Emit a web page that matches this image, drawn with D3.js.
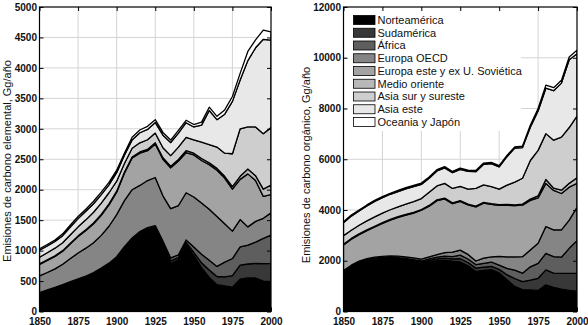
<!DOCTYPE html>
<html><head><meta charset="utf-8">
<script src="https://cdn.jsdelivr.net/npm/d3@7"></script>
<style>
body{margin:0;background:#fff}
svg{display:block}
text{font-family:"Liberation Sans",Arial,Helvetica,sans-serif;fill:#111}
</style>
</head><body>
<svg id="chart" width="588" height="325"></svg>
<script>
// ---------------- DATA ----------------
const years = [1850,1855,1860,1865,1870,1875,1880,1885,1890,1895,1900,1905,1910,1915,1920,1925,1930,1935,1940,1945,1950,1955,1960,1965,1970,1975,1980,1985,1990,1995,2000];
const regions = ["Norteamérica","Sudamérica","África","Europa OECD","Europa este y ex U. Soviética","Medio oriente","Asia sur y sureste","Asia este","Oceania y Japón"];
const xTicks = [1850,1875,1900,1925,1950,1975,2000];
const ecTicks = [0,500,1000,1500,2000,2500,3000,3500,4000,4500,5000];
const ocTicks = [0,2000,4000,6000,8000,10000,12000];

// Elemental carbon (Gg/año)
const ecNorteamerica = [300,340,380,425,470,515,560,615,685,765,870,1030,1170,1270,1330,1360,1100,790,850,1100,920,720,560,440,420,400,530,550,550,500,490];
const ecSudamerica   = [5,6,7,7,8,9,10,11,12,13,14,16,18,20,22,25,28,40,35,35,50,80,120,135,150,190,230,230,240,285,300];
const ecAfrica       = [7,8,9,10,11,12,13,14,15,16,17,18,20,22,24,25,28,50,45,40,90,140,160,165,240,280,300,310,350,415,465];
const ecEuropaOECD   = [273,286,304,333,381,424,457,490,538,606,689,756,792,758,774,790,744,810,810,775,820,840,840,820,630,450,450,300,340,330,365];
const ecEuropaEste   = [187,200,205,215,240,270,290,310,330,350,370,450,520,530,490,550,600,670,730,660,690,700,730,760,750,690,660,870,670,360,300];
const ecMedioOriente = [10,10,10,10,11,12,13,14,15,16,16,17,18,20,22,22,25,26,28,30,30,32,30,30,30,40,50,80,80,120,155];
const ecAsiaSur      = [108,115,125,130,139,148,162,176,185,184,164,143,142,150,158,158,165,174,202,220,220,268,300,350,380,540,780,690,800,910,945];
const ecAsiaEste     = [115,110,110,115,125,135,140,140,140,130,140,135,135,165,170,175,205,215,230,240,210,280,560,450,640,860,800,1090,1300,1550,1435];
const ecOceania      = [25,25,25,30,35,35,35,40,40,40,40,35,45,45,50,45,45,40,45,40,40,50,55,55,70,80,110,150,130,150,135];

// Organic carbon (Gg/año)
const ocNorteamerica = [1520,1720,1870,1960,2020,2040,2050,2040,2000,1950,1890,1950,2000,2020,1980,1950,1800,1580,1620,1650,1520,1250,990,860,850,830,1050,950,880,830,800];
const ocSudamerica   = [30,35,40,40,40,40,40,40,45,50,50,60,70,80,90,130,130,130,130,130,140,200,310,320,390,480,590,560,620,670,700];
const ocAfrica       = [30,35,40,40,40,40,45,45,45,45,50,60,70,80,90,140,140,140,150,170,170,250,330,330,520,590,650,650,640,990,1290];
const ocEuropaOECD   = [30,35,40,40,40,50,55,55,60,65,70,80,100,140,180,200,180,140,200,200,340,450,520,650,660,790,1060,1060,1080,1110,1310];
const ocEuropaEste   = [1010,1025,1040,1110,1190,1300,1410,1530,1650,1770,1930,2000,2130,2120,1910,1920,1950,2130,2170,2070,2010,2040,2020,2030,1960,1790,1700,1550,1430,1300,950];
const ocMedioOriente = [30,30,30,30,30,30,30,30,30,30,30,30,30,30,30,30,30,30,30,30,30,30,30,40,50,80,150,90,130,150,220];
const ocAsiaSur      = [340,320,340,350,370,380,380,380,400,420,430,520,550,580,570,560,590,700,690,670,610,760,900,1020,1520,1790,1810,1890,2090,2200,2430];
const ocAsiaEste     = [510,560,560,590,610,610,610,600,600,590,560,550,590,610,620,670,700,660,810,910,880,1120,1340,1210,1310,1550,1790,1950,2130,2670,2460];
const ocOceania      = [40,40,40,40,40,40,40,50,50,50,50,50,50,50,50,50,50,50,50,50,50,50,50,60,80,100,120,120,110,110,140];

const ecSeries = [ecNorteamerica,ecSudamerica,ecAfrica,ecEuropaOECD,ecEuropaEste,ecMedioOriente,ecAsiaSur,ecAsiaEste,ecOceania];
const ocSeries = [ocNorteamerica,ocSudamerica,ocAfrica,ocEuropaOECD,ocEuropaEste,ocMedioOriente,ocAsiaSur,ocAsiaEste,ocOceania];

// ---------------- STYLE ----------------
const fills = ["#000000","#383838","#5e5e5e","#858585","#a3a3a3","#b8b8b8","#cecece","#e8e8e8","#ffffff"];

const svg = d3.select("#chart");

function panel(cfg){
  const {x0,x1,yTop,yBot,yMax,ticks,series,title,titleX,titleY,legend,id} = cfg;
  const x = d3.scaleLinear().domain([1850,2000]).range([x0,x1]);
  const y = d3.scaleLinear().domain([0,yMax]).range([yBot,yTop]);
  const g = svg.append("g");

  g.append("clipPath").attr("id","clip"+id).append("rect")
    .attr("x",x0).attr("y",yTop).attr("width",x1-x0).attr("height",yBot-yTop);

  // grid
  const grid = g.append("g").attr("stroke","#d4d4d4").attr("stroke-width",1);
  xTicks.slice(1,-1).forEach(t=>grid.append("line").attr("x1",x(t)).attr("x2",x(t)).attr("y1",yTop).attr("y2",yBot));
  ticks.slice(1,-1).forEach(t=>grid.append("line").attr("y1",y(t)).attr("y2",y(t)).attr("x1",x0).attr("x2",x1));

  // legend background covers grid
  if(legend){
    g.append("rect").attr("x",347).attr("y",9).attr("width",174).attr("height",122).attr("fill","#fff");
  }

  // stacked areas
  const keys = regions.map((r,i)=>"s"+i);
  const table = years.map((yr,j)=>{
    const row = {year:yr};
    series.forEach((s,i)=>row["s"+i]=s[j]);
    return row;
  });
  const stacked = d3.stack().keys(keys)(table);
  const area = d3.area().x(d=>x(d.data.year)).y0(d=>y(d[0])).y1(d=>y(d[1]));
  g.append("g").attr("clip-path",`url(#clip${id})`)
    .selectAll("path").data(stacked).join("path")
    .attr("d",area)
    .attr("fill",(d,i)=>fills[i])
    .attr("stroke","#000").attr("stroke-width",1.3).attr("stroke-linejoin","round");

  // legend
  if(legend){
    const lg = g.append("g");
    regions.forEach((r,i)=>{
      const cy = 20 + i*12.75;
      lg.append("rect").attr("x",353.5).attr("y",cy-4.5).attr("width",21.5).attr("height",9)
        .attr("fill",fills[i]).attr("stroke","#000").attr("stroke-width",0.8);
      lg.append("text").attr("x",377.5).attr("y",cy).attr("dy","0.36em")
        .attr("font-size","11px").attr("fill","#000").text(r);
    });
  }

  // axes (inner ticks like the original)
  const ax = g.append("g").attr("transform",`translate(0,${yBot})`)
    .call(d3.axisBottom(x).tickValues(xTicks).tickFormat(d3.format("d")).tickSizeInner(-4).tickSizeOuter(0).tickPadding(6));
  const axT = g.append("g").attr("transform",`translate(0,${yTop})`)
    .call(d3.axisTop(x).tickValues(xTicks).tickFormat("").tickSizeInner(-4).tickSizeOuter(0));
  const ay = g.append("g").attr("transform",`translate(${x0},0)`)
    .call(d3.axisLeft(y).tickValues(ticks).tickFormat(d3.format("d")).tickSizeInner(-4).tickSizeOuter(0).tickPadding(2.5));
  const ayR = g.append("g").attr("transform",`translate(${x1},0)`)
    .call(d3.axisRight(y).tickValues(ticks).tickFormat("").tickSizeInner(-4).tickSizeOuter(0));
  [ax,axT,ay,ayR].forEach(a=>{
    a.select(".domain").remove();
    a.selectAll("line").attr("stroke","#000");
    a.selectAll("text").attr("font-size","10px").attr("font-weight","bold").attr("fill","#111")
      .attr("font-family",'"Liberation Sans",Arial,sans-serif');
  });

  // frame
  g.append("rect").attr("x",x0).attr("y",yTop).attr("width",x1-x0).attr("height",yBot-yTop)
    .attr("fill","none").attr("stroke","#000").attr("stroke-width",1.2);

  // y title
  g.append("text").attr("transform",`translate(${titleX},${titleY}) rotate(-90)`)
    .attr("text-anchor","middle").attr("dy","0.35em").attr("font-size","11px").attr("fill","#000").text(title);
}

panel({id:"ec",x0:39.5,x1:271,yTop:7,yBot:311.5,yMax:5000,ticks:ecTicks,series:ecSeries,
  title:"Emisiones de carbono elemental, Gg/año",titleX:7.5,titleY:161,legend:false});
panel({id:"oc",x0:343.5,x1:577,yTop:7,yBot:311.5,yMax:12000,ticks:ocTicks,series:ocSeries,
  title:"Emisiones de carbono orgánico, Gg/año",titleX:306.5,titleY:165,legend:true});
</script>
</body></html>
